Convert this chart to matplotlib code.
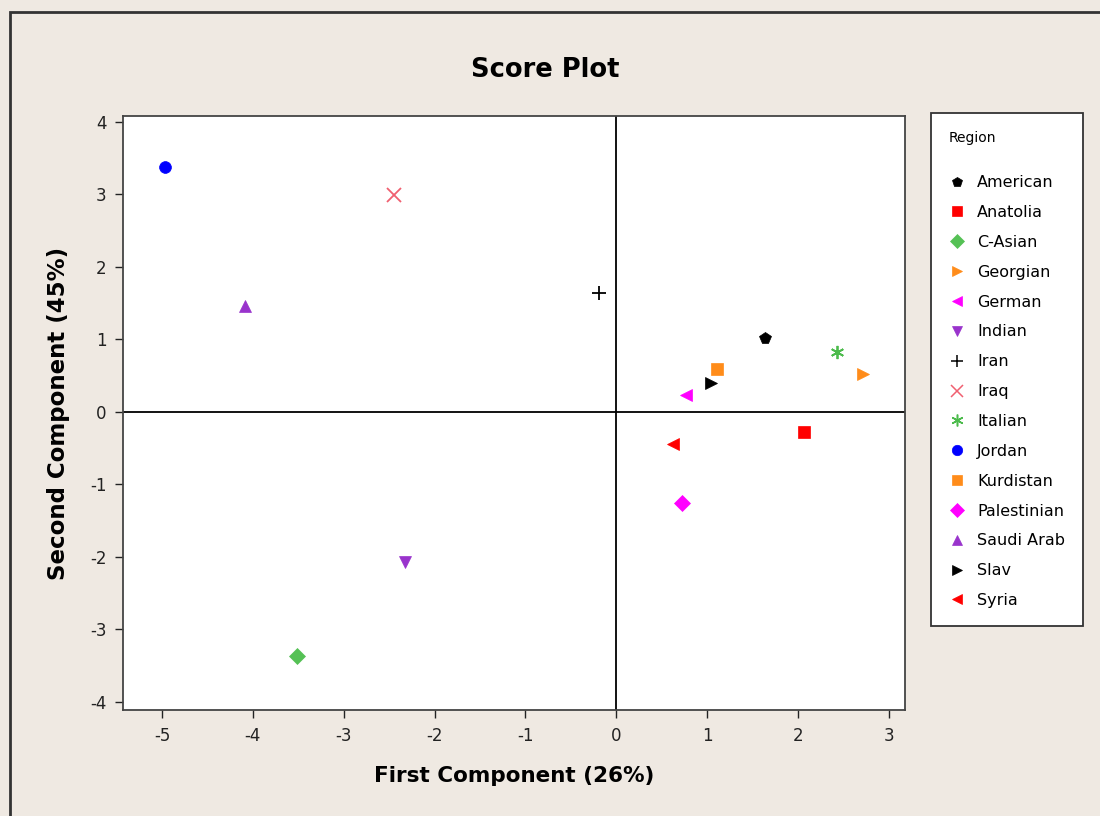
import numpy as np
import matplotlib.pyplot as plt
from matplotlib.patches import Rectangle
from matplotlib.lines import Line2D

plt.rcParams['axes.unicode_minus'] = False

# score values
regions = ['American', 'Anatolia', 'C-Asian', 'Georgian', 'German', 'Indian', 'Iran',
           'Iraq', 'Italian', 'Jordan', 'Kurdistan', 'Palestinian', 'Saudi Arab', 'Slav', 'Syria']
pc1 = [1.64, 2.07, -3.51, 2.72, 0.77, -2.33, -0.19,
       -2.45, 2.43, -4.97, 1.11, 0.72, -4.09, 1.04, 0.63]
pc2 = [1.02, -0.28, -3.37, 0.52, 0.23, -2.07, 1.64,
       2.99, 0.83, 3.38, 0.59, -1.26, 1.46, 0.40, -0.44]
markers = ['p', 's', 'D', '>', '<', 'v', '+', 'x', (6, 2, 0), 'o', 's', 'D', '^', '>', '<']
colors = ['black', '#ff0000', '#55c155', '#ff8c1a', '#ff00ff', '#9933cc', 'black',
          '#f06070', '#4cbb4c', '#0000ff', '#ff8c1a', '#ff00ff', '#9933cc', 'black', '#ff0000']

xticks = [-5, -4, -3, -2, -1, 0, 1, 2, 3]
yticks = [-4, -3, -2, -1, 0, 1, 2, 3, 4]

bg = '#efe9e2'
fig = plt.figure(figsize=(11, 8.16), dpi=100, facecolor=bg)
# outer frame of the graph window
fig.patches.append(Rectangle((10 / 1100, -0.05), 1.1, 1 - 12 / 816 + 0.05, transform=fig.transFigure,
                             fill=False, edgecolor='#333333', linewidth=2))

ax = fig.add_axes([123 / 1100, 106 / 816, 782 / 1100, 594 / 816])
ax.set_facecolor('white')

handles = []
for name, x, y, m, c in zip(regions, pc1, pc2, markers, colors):
    thin = m in ('+', 'x') or isinstance(m, tuple)
    ax.plot(x, y, linestyle='none', marker=m, color=c, markersize=9.5 if thin else 8.5,
            markeredgewidth=1.3 if thin else 0.5)
    handles.append(Line2D([], [], linestyle='none', marker=m, color=c,
                          markersize=8.5 if thin else 7.5, markeredgewidth=1.1 if thin else 0.5, label=name))

ax.axvline(0, color='black', linewidth=1.3, zorder=0)
ax.axhline(0, color='black', linewidth=1.3, zorder=0)

ax.set_xlim(-5.43, 3.18)
ax.set_ylim(-4.11, 4.08)
ax.set_xticks(xticks)
ax.set_yticks(yticks)
ax.tick_params(direction='out', length=6, width=1, labelsize=12, colors='#222222', pad=6)
for s in ax.spines.values():
    s.set_color('#444444')
    s.set_linewidth(1.3)

ax.set_xlabel('First Component (26%)', fontsize=15.5, fontweight='bold', labelpad=15)
ax.set_ylabel('Second Component (45%)', fontsize=16.5, fontweight='bold', labelpad=14)
fig.text(545 / 1100, 1 - 70 / 816, 'Score Plot', ha='center', va='center',
         fontsize=18.5, fontweight='bold')

leg = fig.legend(handles=handles, title='Region', loc='upper left',
                 bbox_to_anchor=(931 / 1100, 1 - 113 / 816), borderaxespad=0,
                 frameon=True, fancybox=False, framealpha=1,
                 fontsize=11.5, title_fontsize=10, labelspacing=0.93, handlelength=1.0,
                 handletextpad=0.8, borderpad=1.1, alignment='left')
leg.get_frame().set_edgecolor('#333333')
leg.get_frame().set_facecolor('white')
leg.get_frame().set_linewidth(1.3)
leg._legend_box.sep = 22

fig.savefig('out.png', dpi=100, facecolor=bg)
